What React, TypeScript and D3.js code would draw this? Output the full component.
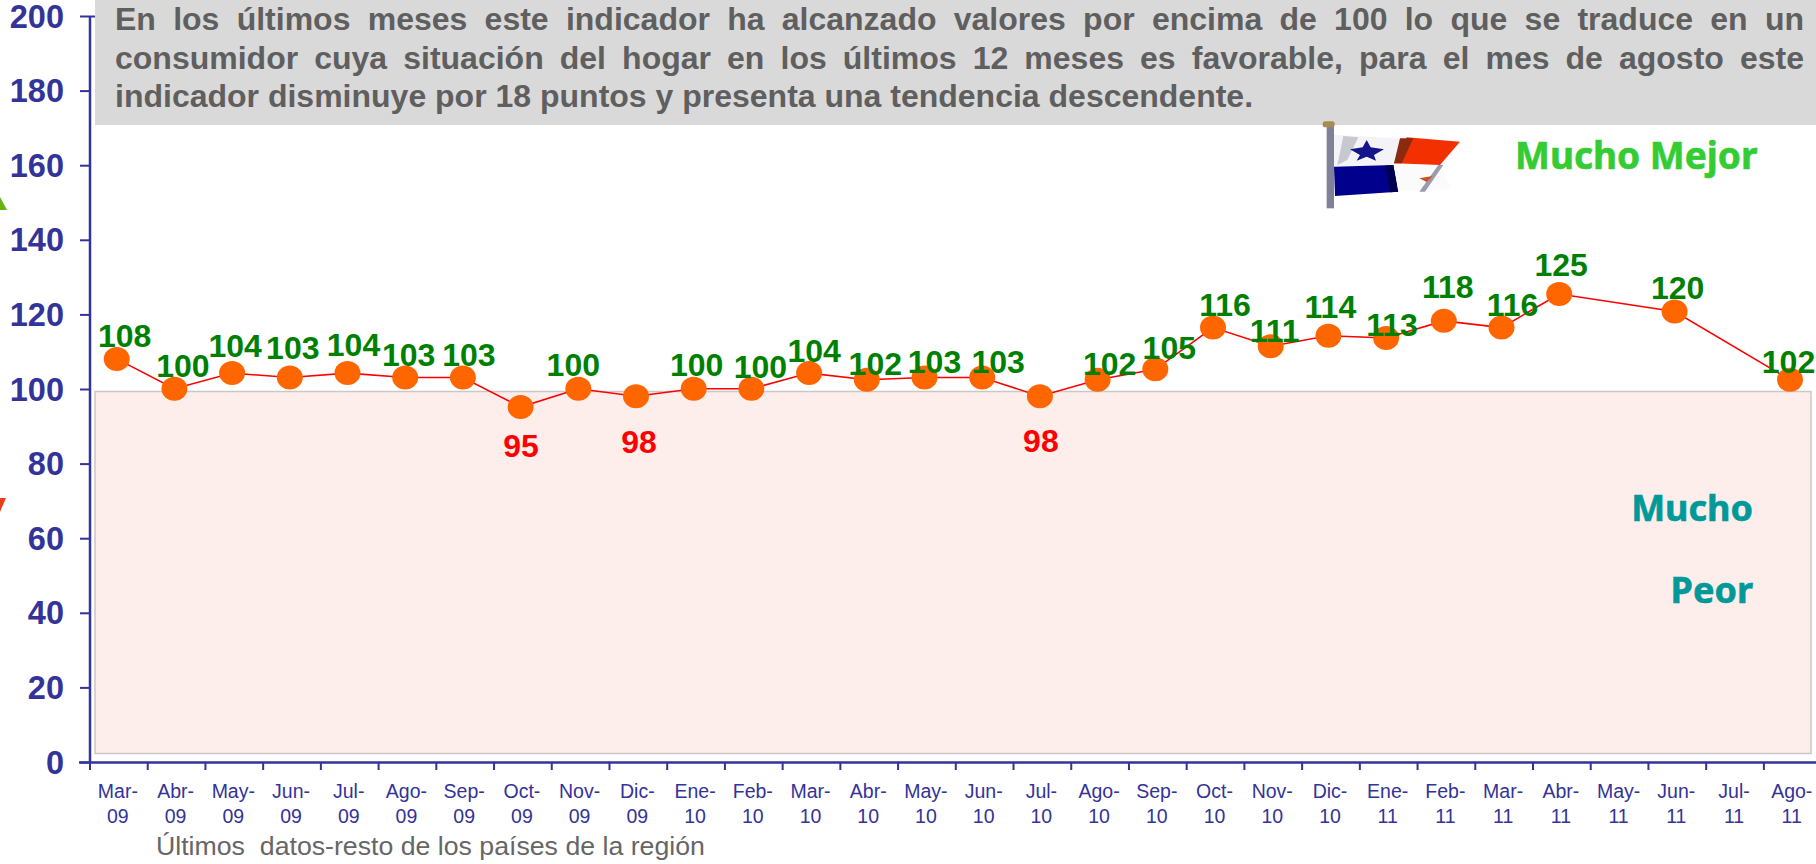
import React from "react";
import * as d3 from "d3";

const categories = ["Mar-09","Abr-09","May-09","Jun-09","Jul-09","Ago-09","Sep-09","Oct-09","Nov-09","Dic-09","Ene-10","Feb-10","Mar-10","Abr-10","May-10","Jun-10","Jul-10","Ago-10","Sep-10","Oct-10","Nov-10","Dic-10","Ene-11","Feb-11","Mar-11","Abr-11","May-11","Jun-11","Jul-11","Ago-11"];
const values: (number | null)[] = [108.2,100.2,104.4,103.2,104.4,103.2,103.2,95.3,100.2,98.2,100.2,100.2,104.4,102.6,103.2,103.2,98.2,102.6,105.4,116.6,111.6,114.4,113.8,118.4,116.6,125.6,null,120.9,null,102.6];
const labels: (number | null)[] = [108,100,104,103,104,103,103,95,100,98,100,100,104,102,103,103,98,102,105,116,111,114,113,118,116,125,null,120,null,102];
const yTicks = [0,20,40,60,80,100,120,140,160,180,200];
const textLines = [
  "En los últimos meses este indicador ha alcanzado valores por encima de 100 lo que se traduce en un",
  "consumidor cuya situación del hogar en los últimos 12 meses es favorable, para el mes de agosto este",
  "indicador disminuye por 18 puntos y presenta una tendencia descendente.",
];
const labelDx = [8,8.5,3,3,6,3.5,6,0.5,-5,3,3,9,5,8.5,10,16,1,12,14,12,4,2,6,4,11,2,0,3,0,-1.5];
const labelDy = [-23,-23,-28,-30,-29,-23,-23,38,-24,45,-24,-22,-23,-16,-16,-16,44,-16,-22,-23,-16,-29,-14,-34,-23,-30,0,-24,0,-18];

const ARIAL = "'Liberation Sans', Arial, sans-serif";
const AXIS = "#333399";

function justifySpacing(line: string, font: string, width: number) {
  const ctx = document.createElement("canvas").getContext("2d")!;
  ctx.font = font;
  const gaps = line.split(" ").length - 1;
  return (width - ctx.measureText(line).width) / gaps;
}

function Flag() {
  return (
    <g transform="translate(1310,110) scale(0.3333)">
      <path d="M72 75 L270 85 L250 165 L72 170 Z" fill="#f4f4f8" />
      <path d="M100 78 L145 82 L112 150 L82 165 Z" fill="#c8c8d0" />
      <path d="M72 170 L250 165 L265 245 L75 258 Z" fill="#00008c" />
      <path d="M225 167 L250 165 L265 245 L240 247 Z" fill="#000050" />
      <path d="M252 165 L390 165 L425 235 L265 245 Z" fill="#fbfbfb" />
      <path d="M290 82 L450 95 L390 165 L252 160 Z" fill="#f23000" />
      <path d="M270 85 L310 85 L275 160 L252 160 Z" fill="#8c2a10" />
      <path d="M385 165 L400 165 L345 245 L328 245 Z" fill="#9a9ab0" />
      <path d="M170 90 L182 112 L222 118 L192 135 L198 152 L170 140 L140 152 L150 135 L120 118 L158 112 Z" fill="#14148c" />
      <path d="M328 205 L368 198 L350 216 Z" fill="#d05020" />
      <rect x={50} y={45} width={22} height={250} fill="#80809a" />
      <rect x={38} y={34} width={36} height={18} rx={8} fill="#a98a50" />
    </g>
  );
}

export default function App() {
  const y = d3.scaleLinear().domain([0, 200]).range([762.5, 16.5]);
  const tickStep = 57.72;
  const band = d3.scaleBand<string>().domain(categories).range([90, 90 + tickStep * categories.length]);
  const point = d3.scalePoint<string>().domain(categories).range([116.7, 1790]);
  const line = d3.line<{ c: string; v: number }>().x((d) => point(d.c)!).y((d) => y(d.v));
  const present = categories
    .map((c, i) => ({ c, v: values[i] as number }))
    .filter((d) => d.v !== null);
  const textSize = 32;
  const textFont = `bold ${textSize}px ${ARIAL}`;
  const heavy = { fontFamily: "'Noto Sans'", fontWeight: "bold", strokeWidth: 0.6 };
  return (
    <svg width={1816} height={864} style={{ position: "absolute", left: 0, top: 0, display: "block" }} fontFamily={ARIAL}>
      <rect width={1816} height={864} fill="#fff" />
      <path d="M0 197 L7 210 L0 210 Z" fill="#66b310" />
      <path d="M0 498 L6 498 L0 512 Z" fill="#e8401c" />
      <rect x={95} y={0} width={1721} height={125} fill="#d9d9d9" />
      {textLines.map((t, i) => (
        <text key={i} x={115} y={30 + i * 38.6} fontSize={textSize} fontWeight="bold" fill="#5f5f5f"
          wordSpacing={i < 2 ? justifySpacing(t, textFont, 1689) : 0}>{t}</text>
      ))}
      <rect x={95} y={391.5} width={1716} height={362} fill="#fdeeec" stroke="#c8c8c8" strokeWidth={1.5} />
      <Flag />
      <text x={1515} y={169} {...heavy} fontSize={37} fill="#33cc33" stroke="#33cc33">Mucho Mejor</text>
      <text x={1753} y={521} textAnchor="end" {...heavy} fontSize={36} fill="#009999" stroke="#009999">Mucho</text>
      <text x={1753} y={603} textAnchor="end" {...heavy} fontSize={36} fill="#009999" stroke="#009999">Peor</text>

      <line x1={90} x2={90} y1={16.5} y2={762.5} stroke={AXIS} strokeWidth={2.5} />
      <line x1={79} x2={1816} y1={762.5} y2={762.5} stroke={AXIS} strokeWidth={2.5} />
      {yTicks.map((t) => (
        <g key={t}>
          <line x1={80} x2={t === 200 ? 95 : 90} y1={y(t)} y2={y(t)} stroke={AXIS} strokeWidth={2} />
          <text x={64} y={y(t) + 11} textAnchor="end" fontSize={32.5} fontWeight="bold" fill={AXIS}>{t}</text>
        </g>
      ))}
      {categories.map((c) => {
        const [m, yr] = c.split("-");
        const x0 = band(c)!;
        const cx = x0 + band.bandwidth() / 2 - 1;
        return (
          <g key={c}>
            <line x1={x0} x2={x0} y1={762.5} y2={770} stroke={AXIS} strokeWidth={2} />
            <text x={cx} y={798} textAnchor="middle" fontSize={19.5} fill={AXIS}>{m}-</text>
            <text x={cx} y={823} textAnchor="middle" fontSize={19.5} fill={AXIS}>{yr}</text>
          </g>
        );
      })}
      <text x={156} y={855} fontSize={26.7} fill="#666666" xmlSpace="preserve">Últimos  datos-resto de los países de la región</text>

      <path d={line(present)!} fill="none" stroke="#ff0000" strokeWidth={1.6} />
      {present.map((d) => (
        <ellipse key={d.c} cx={point(d.c)} cy={y(d.v)} rx={13} ry={12} fill="#ff6600" />
      ))}
      {categories.map((c, i) => labels[i] === null ? null : (
        <text key={c} x={point(c)! + labelDx[i]} y={y(values[i] as number) + labelDy[i] + 11.5}
          textAnchor="middle" fontSize={32} fontWeight="bold" fill={(labels[i] as number) < 100 ? "#ff0000" : "#008000"}>
          {labels[i]}
        </text>
      ))}
    </svg>
  );
}
